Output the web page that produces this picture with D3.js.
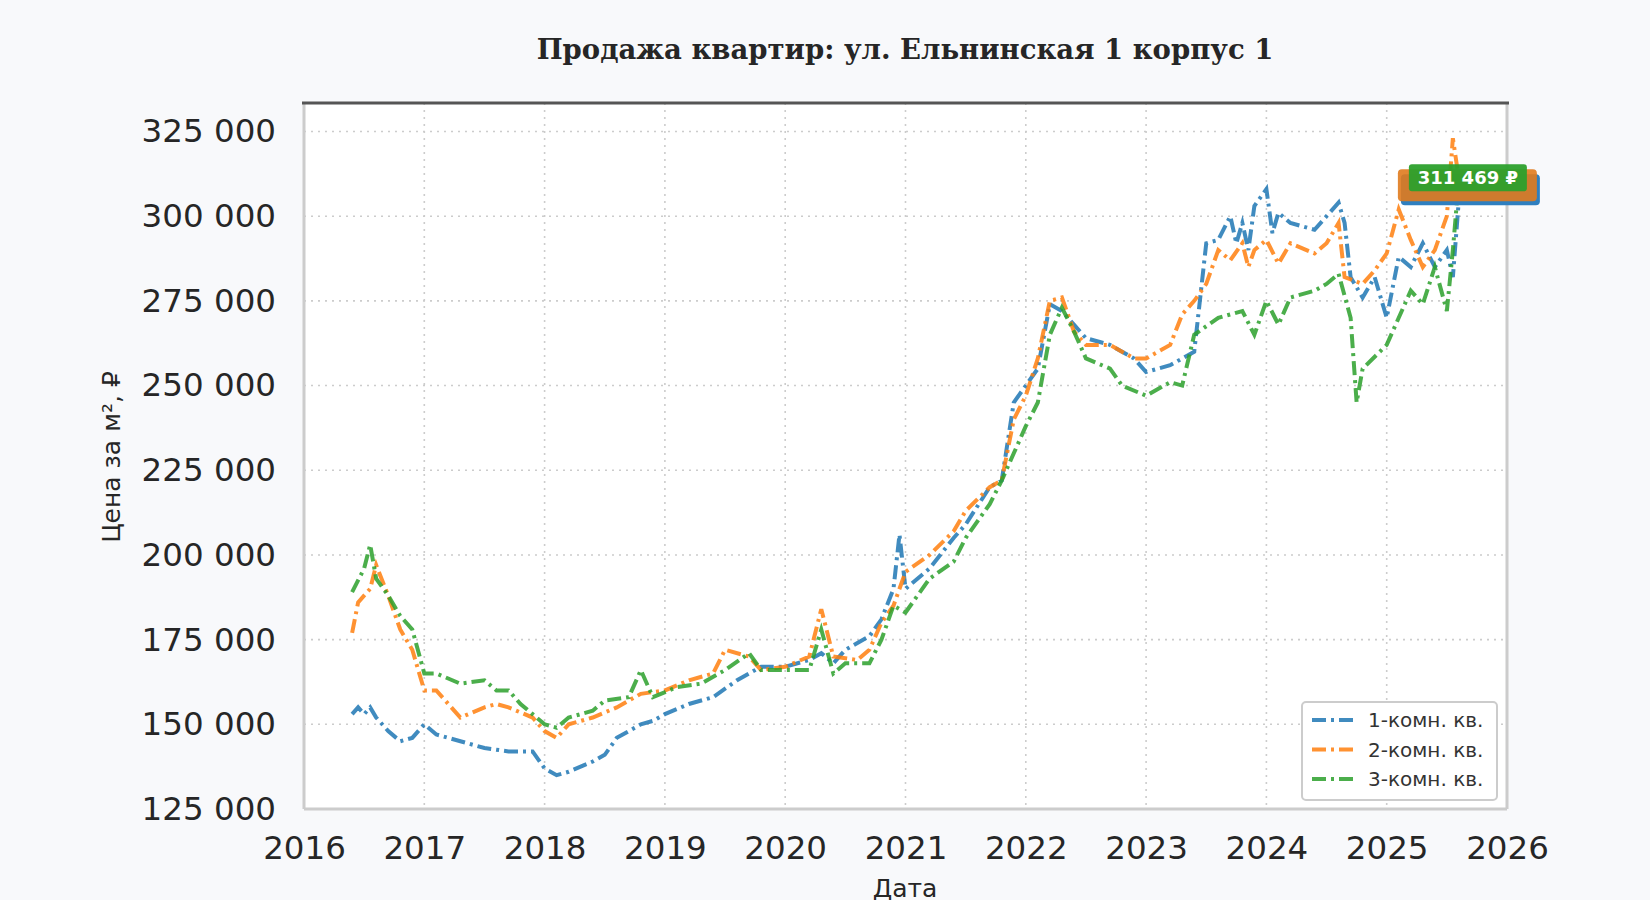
<!DOCTYPE html>
<html><head><meta charset="utf-8">
<script src="https://cdn.jsdelivr.net/npm/d3@7"></script>
<style>body{margin:0;background:#f8f9fb;}svg{font-family:"DejaVu Sans",sans-serif;}</style>
</head><body><svg id="c" width="1650" height="900"></svg>
<script>
const xTicks=[2016,2017,2018,2019,2020,2021,2022,2023,2024,2025,2026];
const yTicks=[125000,150000,175000,200000,225000,250000,275000,300000,325000];
const seriesNames=["1-комн. кв.","2-комн. кв.","3-комн. кв."];
const seriesColors=["#1f77b4","#ff7f0e","#2ca02c"];
const s1=[[2016.4,153],[2016.45,155],[2016.5,153],[2016.55,155],[2016.6,152],[2016.7,148],[2016.8,145],[2016.9,146],[2017.0,150],[2017.1,147],[2017.3,145],[2017.5,143],[2017.7,142],[2017.9,142],[2018.0,137],[2018.1,135],[2018.2,136],[2018.4,139],[2018.5,141],[2018.6,146],[2018.8,150],[2018.9,151],[2019.0,153],[2019.2,156],[2019.4,158],[2019.6,163],[2019.8,167],[2020.0,167],[2020.2,169],[2020.3,171],[2020.4,168],[2020.5,172],[2020.7,176],[2020.8,181],[2020.9,190],[2020.95,206],[2021.0,190],[2021.2,196],[2021.4,205],[2021.5,209],[2021.7,220],[2021.8,222],[2021.9,245],[2022.0,250],[2022.1,255],[2022.2,274],[2022.3,272],[2022.4,268],[2022.5,264],[2022.7,262],[2022.9,258],[2023.0,254],[2023.2,256],[2023.3,258],[2023.4,260],[2023.5,292],[2023.6,293],[2023.7,300],[2023.75,292],[2023.8,298],[2023.85,290],[2023.9,303],[2024.0,308],[2024.05,295],[2024.1,301],[2024.2,298],[2024.3,297],[2024.4,296],[2024.5,300],[2024.6,304],[2024.65,298],[2024.7,282],[2024.8,276],[2024.9,282],[2025.0,270],[2025.1,288],[2025.2,285],[2025.3,292],[2025.4,285],[2025.5,290],[2025.55,282],[2025.6,305]];
const s2=[[2016.4,177],[2016.45,186],[2016.55,190],[2016.6,197],[2016.7,188],[2016.8,178],[2016.9,172],[2017.0,160],[2017.1,160],[2017.2,156],[2017.3,152],[2017.5,155],[2017.6,156],[2017.7,155],[2017.9,152],[2018.0,148],[2018.1,146],[2018.2,150],[2018.4,152],[2018.6,155],[2018.8,159],[2019.0,160],[2019.2,163],[2019.4,165],[2019.5,172],[2019.7,170],[2019.8,166],[2020.0,167],[2020.2,170],[2020.3,184],[2020.4,170],[2020.6,169],[2020.7,172],[2020.8,180],[2020.9,185],[2021.0,195],[2021.2,200],[2021.4,207],[2021.5,213],[2021.7,220],[2021.8,222],[2021.9,240],[2022.0,247],[2022.1,258],[2022.2,275],[2022.3,276],[2022.4,266],[2022.5,262],[2022.7,262],[2022.9,258],[2023.0,258],[2023.2,262],[2023.3,271],[2023.4,275],[2023.5,280],[2023.6,290],[2023.7,287],[2023.8,292],[2023.85,285],[2023.9,290],[2024.0,293],[2024.1,286],[2024.2,292],[2024.4,289],[2024.5,292],[2024.6,298],[2024.65,282],[2024.8,280],[2024.9,284],[2025.0,289],[2025.1,302],[2025.2,293],[2025.3,285],[2025.4,290],[2025.5,300],[2025.55,323],[2025.6,311]];
const s3=[[2016.4,189],[2016.5,196],[2016.55,203],[2016.6,193],[2016.7,188],[2016.8,182],[2016.9,178],[2017.0,165],[2017.1,165],[2017.3,162],[2017.5,163],[2017.6,160],[2017.7,160],[2017.8,156],[2017.9,153],[2018.0,150],[2018.1,149],[2018.2,152],[2018.4,154],[2018.5,157],[2018.7,158],[2018.8,166],[2018.9,158],[2019.1,161],[2019.3,162],[2019.5,166],[2019.7,171],[2019.8,166],[2020.0,166],[2020.2,166],[2020.3,178],[2020.4,165],[2020.5,168],[2020.7,168],[2020.8,175],[2020.9,185],[2021.0,183],[2021.2,193],[2021.4,198],[2021.5,205],[2021.7,215],[2021.8,222],[2021.9,230],[2022.0,238],[2022.1,245],[2022.2,265],[2022.3,273],[2022.4,266],[2022.5,258],[2022.7,255],[2022.8,250],[2023.0,247],[2023.2,251],[2023.3,250],[2023.4,265],[2023.6,270],[2023.8,272],[2023.9,265],[2024.0,275],[2024.1,268],[2024.2,276],[2024.4,278],[2024.5,280],[2024.6,283],[2024.7,270],[2024.75,245],[2024.8,255],[2025.0,262],[2025.1,270],[2025.2,278],[2025.3,274],[2025.4,285],[2025.5,272],[2025.55,290],[2025.6,311]];
const series=[s1,s2,s3];
const lastLabel="311 469 ₽";

const svg=d3.select("#c");
const L=304,R=1507,T=103,B=809;
const x=d3.scaleLinear().domain([2016,2026]).range([L,R]);
const y=d3.scaleLinear().domain([125000,325000]).range([B,131.5]);
svg.append("rect").attr("x",L).attr("y",T).attr("width",R-L).attr("height",B-T).attr("fill","#fff");
const fmt=v=>d3.format(",")(v).replace(/,/g," ");
svg.append("g").selectAll("line").data(xTicks).join("line").attr("x1",d=>x(d)).attr("x2",d=>x(d)).attr("y1",T).attr("y2",B).attr("stroke","#ccc").attr("stroke-width",1.6).attr("stroke-dasharray","2,5");
svg.append("g").selectAll("line").data(yTicks).join("line").attr("x1",L).attr("x2",R).attr("y1",d=>y(d)).attr("y2",d=>y(d)).attr("stroke","#ccc").attr("stroke-width",1.6).attr("stroke-dasharray","2,5");
svg.append("line").attr("x1",L).attr("x2",L).attr("y1",T).attr("y2",B).attr("stroke","#ccc").attr("stroke-width",3);
svg.append("line").attr("x1",R).attr("x2",R).attr("y1",T).attr("y2",B).attr("stroke","#ccc").attr("stroke-width",3);
svg.append("line").attr("x1",L).attr("x2",R).attr("y1",B).attr("y2",B).attr("stroke","#ccc").attr("stroke-width",3);
svg.append("line").attr("x1",L-2).attr("x2",R+2).attr("y1",T).attr("y2",T).attr("stroke","#555").attr("stroke-width",3);
const xa=svg.append("g").attr("transform",`translate(0,${B})`).call(d3.axisBottom(x).tickValues(xTicks).tickFormat(d3.format("d")).tickSize(0).tickPadding(27));
const ya=svg.append("g").attr("transform",`translate(${L},0)`).call(d3.axisLeft(y).tickValues(yTicks).tickFormat(fmt).tickSize(0).tickPadding(28));
[xa,ya].forEach(a=>{a.select(".domain").remove();a.selectAll("text").attr("font-size",32.5).attr("fill","#262626").attr("font-family","DejaVu Sans");});
const line=d3.line().x(d=>x(d[0])).y(d=>y(d[1]*1000));
series.forEach((s,i)=>{
 svg.append("path").datum(s).attr("d",line).attr("fill","none").attr("stroke",seriesColors[i]).attr("stroke-width",4).attr("opacity",0.85).attr("stroke-dasharray","14,5,3,5");
});
const lx=x(2025.6), ly=y(311469);
svg.append("rect").attr("x",lx-58).attr("y",ly-3).attr("width",139).attr("height",31).attr("rx",4).attr("fill","#2f7fbf");
svg.append("rect").attr("x",lx-61).attr("y",ly-8).attr("width",139).attr("height",32).attr("rx",4).attr("fill","#e07b1e").attr("opacity",0.9);
svg.append("rect").attr("x",lx-50).attr("y",ly-13).attr("width",118).attr("height",27).attr("rx",3).attr("fill","#2ca02c").attr("opacity",0.95);
svg.append("text").attr("x",lx+9).attr("y",ly+7).attr("text-anchor","middle").attr("font-size",18).attr("font-weight","bold").attr("fill","#fff").text(lastLabel);
const lg=svg.append("g").attr("transform","translate(1302,702)");
lg.append("rect").attr("width",195).attr("height",98).attr("rx",4).attr("fill","#fff").attr("stroke","#ccc").attr("stroke-width",2);
seriesNames.forEach((n,i)=>{
 lg.append("line").attr("x1",10).attr("x2",55).attr("y1",18+i*29.5).attr("y2",18+i*29.5).attr("stroke",seriesColors[i]).attr("stroke-width",4).attr("opacity",0.85).attr("stroke-dasharray","14,5,3,5");
 lg.append("text").attr("x",66).attr("y",25+i*29.5).attr("font-size",20).attr("fill","#333").text(n);
});
svg.append("text").attr("x",905).attr("y",59).attr("text-anchor","middle").attr("font-family","DejaVu Serif").attr("font-weight","bold").attr("font-size",27.5).attr("fill","#262626").text("Продажа квартир: ул. Ельнинская 1 корпус 1");
svg.append("text").attr("x",905).attr("y",897).attr("text-anchor","middle").attr("font-size",25).attr("fill","#262626").text("Дата");
svg.append("text").attr("transform","translate(120,457) rotate(-90)").attr("text-anchor","middle").attr("font-size",25).attr("fill","#262626").text("Цена за м², ₽");
</script></body></html>
